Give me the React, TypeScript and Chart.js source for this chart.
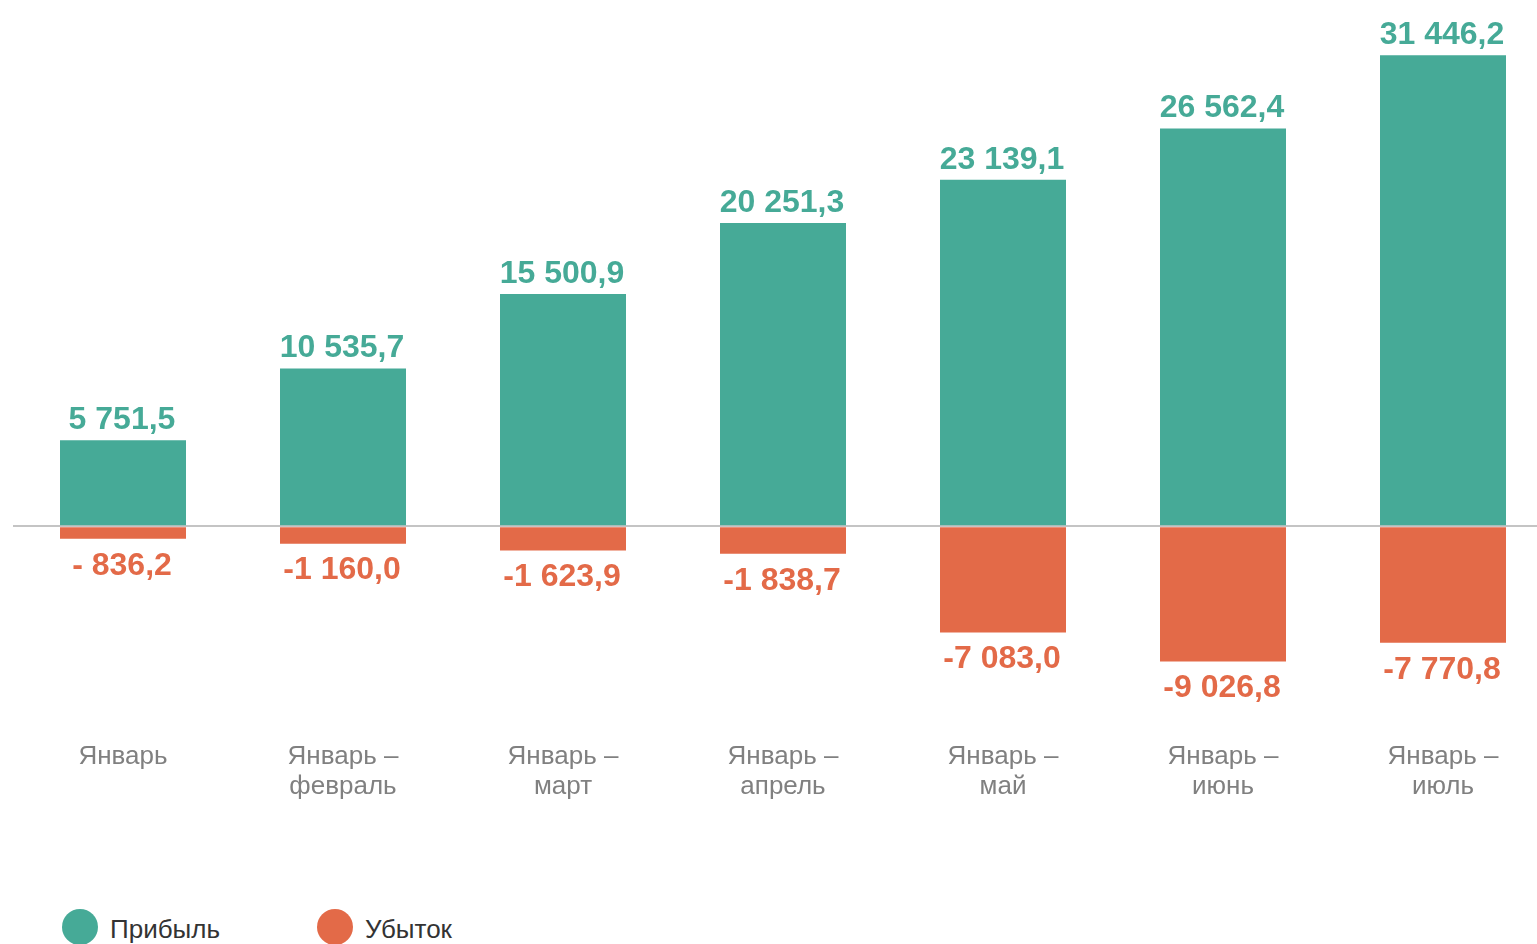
import React, { useEffect, useRef } from "react";
import { Chart, registerables } from "chart.js";

Chart.register(...registerables);

const categories: string[][] = [
  ["Январь"],
  ["Январь –", "февраль"],
  ["Январь –", "март"],
  ["Январь –", "апрель"],
  ["Январь –", "май"],
  ["Январь –", "июнь"],
  ["Январь –", "июль"],
];
const profit: number[] = [5751.5, 10535.7, 15500.9, 20251.3, 23139.1, 26562.4, 31446.2];
const loss: number[] = [-836.2, -1160.0, -1623.9, -1838.7, -7083.0, -9026.8, -7770.8];
const profitLabels: string[] = ["5 751,5", "10 535,7", "15 500,9", "20 251,3", "23 139,1", "26 562,4", "31 446,2"];
const lossLabels: string[] = ["- 836,2", "-1 160,0", "-1 623,9", "-1 838,7", "-7 083,0", "-9 026,8", "-7 770,8"];
const seriesNames: string[] = ["Прибыль", "Убыток"];

const GREEN = "#46aa97";
const ORANGE = "#e36a48";
const FONT = "'Liberation Sans', Arial, sans-serif";

const valueLabelPlugin = {
  id: "valueLabels",
  afterDatasetsDraw(chart: any) {
    const ctx = chart.ctx;
    ctx.save();
    ctx.font = `bold 32px ${FONT}`;
    ctx.textAlign = "center";
    ctx.textBaseline = "middle";
    chart.data.datasets.forEach((ds: any, di: number) => {
      const meta = chart.getDatasetMeta(di);
      const texts = di === 0 ? profitLabels : lossLabels;
      meta.data.forEach((el: any, i: number) => {
        const v = ds.data[i];
        ctx.fillStyle = di === 0 ? GREEN : ORANGE;
        const y = v >= 0 ? el.y - 20 : el.y + 27;
        ctx.fillText(texts[i], el.x - 1, y);
      });
    });
    ctx.restore();
  },
};

export default function App() {
  const ref = useRef<HTMLCanvasElement | null>(null);
  useEffect(() => {
    if (!ref.current) return;
    const chart = new Chart(ref.current, {
      type: "bar",
      data: {
        labels: categories,
        datasets: [
          {
            label: seriesNames[0],
            data: profit,
            backgroundColor: GREEN,
            borderWidth: 0,
            barPercentage: 1,
            categoryPercentage: 126 / 220,
          },
          {
            label: seriesNames[1],
            data: loss,
            backgroundColor: ORANGE,
            borderWidth: 0,
            barPercentage: 1,
            categoryPercentage: 126 / 220,
          },
        ],
      },
      options: {
        animation: false,
        responsive: false,
        devicePixelRatio: 1,
        layout: { padding: { left: 13, right: 7, top: 17, bottom: 0 } },
        plugins: { legend: { display: false }, tooltip: { enabled: false } },
        scales: {
          x: {
            stacked: true,
            grid: { display: false },
            border: { display: false },
            ticks: {
              font: { family: FONT, size: 26, lineHeight: 30 / 26 },
              color: "#808080",
              padding: -2,
              maxRotation: 0,
              autoSkip: false,
            },
            afterFit: (s: any) => {
              s.height = 94;
            },
          },
          y: {
            stacked: true,
            min: -14000,
            max: 34000,
            z: 1,
            ticks: { display: false, stepSize: 2000 },
            grid: {
              drawTicks: false,
              lineWidth: 2,
              color: (c: any) => (c.tick && c.tick.value === 0 ? "#c4c4c4" : "rgba(0,0,0,0)"),
            },
            border: { display: false },
            afterFit: (s: any) => {
              s.width = 0;
            },
          },
        },
      },
      plugins: [valueLabelPlugin],
    });
    return () => chart.destroy();
  }, []);

  const legendItem = (color: string, text: string, left: number) => (
    <div style={{ position: "absolute", left, top: 909, height: 36, display: "flex", alignItems: "flex-start" }}>
      <div style={{ width: 36, height: 36, borderRadius: "50%", background: color }} />
      <span
        style={{
          position: "absolute",
          left: 48,
          top: 5,
          fontFamily: FONT,
          fontSize: 26,
          lineHeight: "30px",
          color: "#333333",
          whiteSpace: "nowrap",
        }}
      >
        {text}
      </span>
    </div>
  );

  return (
    <div
      style={{
        position: "fixed",
        left: 0,
        top: 0,
        width: 1537,
        height: 944,
        overflow: "hidden",
        background: "#ffffff",
      }}
    >
      <canvas
        ref={ref}
        width={1560}
        height={830}
        style={{ position: "absolute", left: 0, top: 0, width: 1560, height: 830 }}
      />
      {legendItem(GREEN, seriesNames[0], 62)}
      {legendItem(ORANGE, seriesNames[1], 317)}
    </div>
  );
}
